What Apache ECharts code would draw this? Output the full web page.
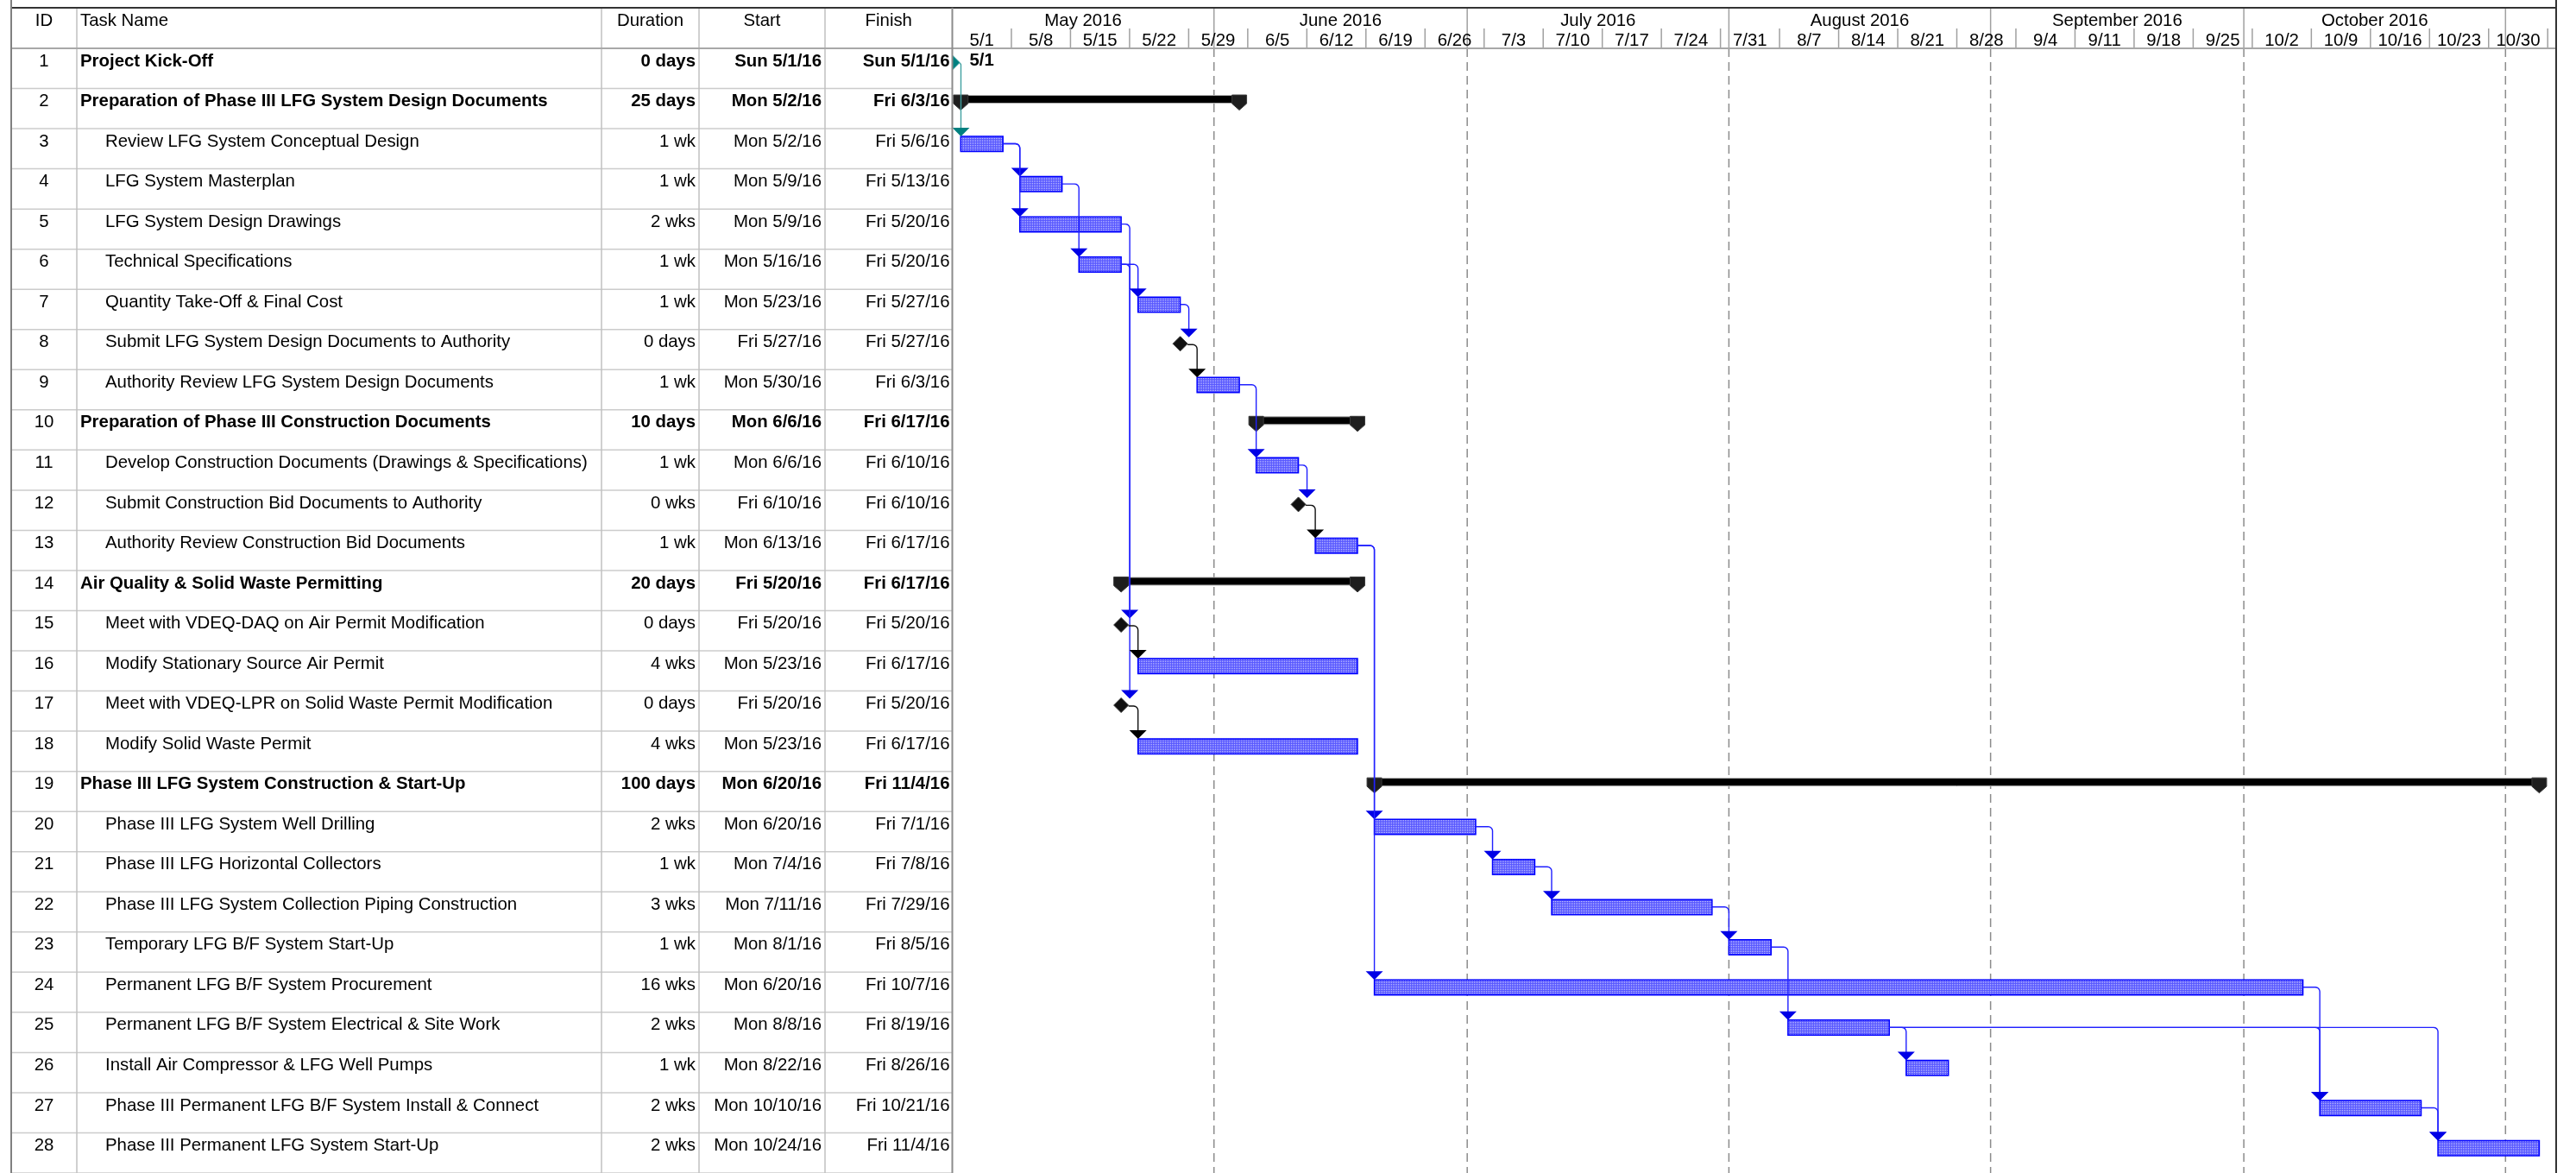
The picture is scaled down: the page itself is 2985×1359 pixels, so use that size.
<!DOCTYPE html>
<html>
<head>
<meta charset="utf-8">
<title>Phase III LFG System - Schedule</title>
<script src="https://cdn.jsdelivr.net/npm/echarts@6/dist/echarts.min.js"></script>
<style>
  html, body { margin: 0; padding: 0; background: #fff; }
  #main { width: 2985px; height: 1359px; }
</style>
</head>
<body>
<div id="main"></div>
<script>
const taskIds = [1, 2, 3, 4, 5, 6, 7, 8, 9, 10, 11, 12, 13, 14, 15, 16, 17, 18, 19, 20, 21, 22, 23, 24, 25, 26, 27, 28];
const taskNames = [
  'Project Kick-Off',
  'Preparation of Phase III LFG System Design Documents',
  'Review LFG System Conceptual Design',
  'LFG System Masterplan',
  'LFG System Design Drawings',
  'Technical Specifications',
  'Quantity Take-Off & Final Cost',
  'Submit LFG System Design Documents to Authority',
  'Authority Review LFG System Design Documents',
  'Preparation of Phase III Construction Documents',
  'Develop Construction Documents (Drawings & Specifications)',
  'Submit Construction Bid Documents to Authority',
  'Authority Review Construction Bid Documents',
  'Air Quality & Solid Waste Permitting',
  'Meet with VDEQ-DAQ on Air Permit Modification',
  'Modify Stationary Source Air Permit',
  'Meet with VDEQ-LPR on Solid Waste Permit Modification',
  'Modify Solid Waste Permit',
  'Phase III LFG System Construction & Start-Up',
  'Phase III LFG System Well Drilling',
  'Phase III LFG Horizontal Collectors',
  'Phase III LFG System Collection Piping Construction',
  'Temporary LFG B/F System Start-Up',
  'Permanent LFG B/F System Procurement',
  'Permanent LFG B/F System Electrical & Site Work',
  'Install Air Compressor & LFG Well Pumps',
  'Phase III Permanent LFG B/F System Install & Connect',
  'Phase III Permanent LFG System Start-Up'
];
const durations = ['0 days', '25 days', '1 wk', '1 wk', '2 wks', '1 wk', '1 wk', '0 days', '1 wk', '10 days',
  '1 wk', '0 wks', '1 wk', '20 days', '0 days', '4 wks', '0 days', '4 wks', '100 days', '2 wks',
  '1 wk', '3 wks', '1 wk', '16 wks', '2 wks', '1 wk', '2 wks', '2 wks'];
const starts = ['Sun 5/1/16', 'Mon 5/2/16', 'Mon 5/2/16', 'Mon 5/9/16', 'Mon 5/9/16', 'Mon 5/16/16', 'Mon 5/23/16',
  'Fri 5/27/16', 'Mon 5/30/16', 'Mon 6/6/16', 'Mon 6/6/16', 'Fri 6/10/16', 'Mon 6/13/16', 'Fri 5/20/16',
  'Fri 5/20/16', 'Mon 5/23/16', 'Fri 5/20/16', 'Mon 5/23/16', 'Mon 6/20/16', 'Mon 6/20/16', 'Mon 7/4/16',
  'Mon 7/11/16', 'Mon 8/1/16', 'Mon 6/20/16', 'Mon 8/8/16', 'Mon 8/22/16', 'Mon 10/10/16', 'Mon 10/24/16'];
const finishes = ['Sun 5/1/16', 'Fri 6/3/16', 'Fri 5/6/16', 'Fri 5/13/16', 'Fri 5/20/16', 'Fri 5/20/16', 'Fri 5/27/16',
  'Fri 5/27/16', 'Fri 6/3/16', 'Fri 6/17/16', 'Fri 6/10/16', 'Fri 6/10/16', 'Fri 6/17/16', 'Fri 6/17/16',
  'Fri 5/20/16', 'Fri 6/17/16', 'Fri 5/20/16', 'Fri 6/17/16', 'Fri 11/4/16', 'Fri 7/1/16', 'Fri 7/8/16',
  'Fri 7/29/16', 'Fri 8/5/16', 'Fri 10/7/16', 'Fri 8/19/16', 'Fri 8/26/16', 'Fri 10/21/16', 'Fri 11/4/16'];
const boldRows = [1, 2, 10, 14, 19];

// bar kind and bar span (from .. to, to = end of last working day)
const barType = ['milestone', 'summary', 'task', 'task', 'task', 'task', 'task', 'milestone', 'task', 'summary',
  'task', 'milestone', 'task', 'summary', 'milestone', 'task', 'milestone', 'task', 'summary', 'task',
  'task', 'task', 'task', 'task', 'task', 'task', 'task', 'task'];
const barFrom = ['2016-05-01', '2016-05-02', '2016-05-02', '2016-05-09', '2016-05-09', '2016-05-16', '2016-05-23',
  '2016-05-28', '2016-05-30', '2016-06-06', '2016-06-06', '2016-06-11', '2016-06-13', '2016-05-21',
  '2016-05-21', '2016-05-23', '2016-05-21', '2016-05-23', '2016-06-20', '2016-06-20', '2016-07-04',
  '2016-07-11', '2016-08-01', '2016-06-20', '2016-08-08', '2016-08-22', '2016-10-10', '2016-10-24'];
const barTo = ['2016-05-01', '2016-06-04', '2016-05-07', '2016-05-14', '2016-05-21', '2016-05-21', '2016-05-28',
  '2016-05-28', '2016-06-04', '2016-06-18', '2016-06-11', '2016-06-11', '2016-06-18', '2016-06-18',
  '2016-05-21', '2016-06-18', '2016-05-21', '2016-06-18', '2016-11-05', '2016-07-02', '2016-07-09',
  '2016-07-30', '2016-08-06', '2016-10-08', '2016-08-20', '2016-08-27', '2016-10-22', '2016-11-05'];
const labelledMilestones = [1];

// predecessor -> successor links
const linkPairs = [[1, 3], [3, 4], [3, 5], [4, 6], [5, 15], [6, 17], [6, 7], [7, 8], [8, 9], [9, 11], [11, 12],
  [12, 13], [15, 16], [17, 18], [13, 20], [13, 24], [20, 21], [21, 22], [22, 23], [23, 25], [25, 26],
  [24, 27], [25, 27], [25, 28], [27, 28]];
const linkKinds = ['teal', 'blue', 'blue', 'blue', 'blue', 'blue', 'blue', 'blue', 'black', 'blue', 'blue',
  'black', 'black', 'black', 'blue', 'blue', 'blue', 'blue', 'blue', 'blue', 'blue',
  'blue', 'blue', 'blue', 'blue'];

// timescale
const monthLabels = ['May 2016', 'June 2016', 'July 2016', 'August 2016', 'September 2016', 'October 2016', ''];
const monthStarts = ['2016-05-01', '2016-06-01', '2016-07-01', '2016-08-01', '2016-09-01', '2016-10-01', '2016-11-01'];
const weekLabels = ['5/1', '5/8', '5/15', '5/22', '5/29', '6/5', '6/12', '6/19', '6/26', '7/3', '7/10', '7/17',
  '7/24', '7/31', '8/7', '8/14', '8/21', '8/28', '9/4', '9/11', '9/18', '9/25', '10/2', '10/9', '10/16',
  '10/23', '10/30'];
const axisStart = '2016-05-01';
const axisEnd = '2016-11-07';
const tableHeaders = ['ID', 'Task Name', 'Duration', 'Start', 'Finish'];

// ---- helpers ----
const ORIGIN = Date.UTC(2016, 4, 1);
const day = (s) => {
  const [y, m, d] = s.split('-').map(Number);
  return (Date.UTC(y, m - 1, d) - ORIGIN) / 86400000;
};
const weekDay = (lbl) => {
  const [m, d] = lbl.split('/').map(Number);
  return (Date.UTC(2016, m - 1, d) - ORIGIN) / 86400000;
};

const FONT = '"Liberation Sans", Arial, sans-serif';
const TOP = 9, HEAD_BOTTOM = 56, ROW_H = 46.6, MID_TIER = 33;
const TABLE_LEFT = 13, GANTT_LEFT = 1103.5, GANTT_RIGHT = 2962;
const colEdges = [13, 89, 697, 810, 956, 1103.5];

const txt = (text, x, y, align, bold, extra) => ({
  type: 'text',
  style: Object.assign({
    text: text, x: x, y: y, fill: '#000',
    font: (bold ? 'bold ' : '') + '20.4px ' + FONT,
    align: align, textAlign: align, verticalAlign: 'middle', textVerticalAlign: 'middle'
  }, extra || {})
});

const rowTop = (api, idx) => api.coord([0, idx])[1] - api.size([0, 1])[1] / 2;

// bar fill: fine blue dither
const pat = document.createElement('canvas');
pat.width = 2; pat.height = 2;
const pg = pat.getContext('2d');
pg.fillStyle = '#5656ff'; pg.fillRect(0, 0, 2, 2);
pg.fillStyle = '#c4c4ff'; pg.fillRect(0, 0, 1, 1);
const barFill = { image: pat, repeat: 'repeat' };

const linkColors = {
  blue: { line: '#2020ff', head: '#0000e6' },
  black: { line: '#111', head: '#000' },
  teal: { line: '#40a0a0', head: '#008080' }
};

// ---- series ----
const tableSeries = {
  type: 'custom', xAxisIndex: 1, yAxisIndex: 1, z: 2, silent: true,
  data: taskIds.map((id, i) => [0, i]),
  renderItem: (params, api) => {
    const i = params.dataIndex;
    const top = rowTop(api, api.value(1));
    const h = api.size([0, 1])[1];
    const bold = boldRows.includes(taskIds[i]);
    const y = top + 15;
    return {
      type: 'group',
      children: [
        { type: 'line', shape: { x1: TABLE_LEFT, y1: top + h, x2: GANTT_LEFT, y2: top + h },
          style: { stroke: '#cccccc', lineWidth: 1.5 } },
        txt(String(taskIds[i]), (colEdges[0] + colEdges[1]) / 2, y, 'center', false),
        txt(taskNames[i], bold ? 93 : 122, y, 'left', bold),
        txt(durations[i], colEdges[3] - 4, y, 'right', bold),
        txt(starts[i], colEdges[4] - 4, y, 'right', bold),
        txt(finishes[i], colEdges[5] - 3, y, 'right', bold)
      ]
    };
  }
};

const tableHeaderSeries = {
  type: 'custom', xAxisIndex: 1, yAxisIndex: 1, z: 3, silent: true, clip: false,
  data: [[0, 0]],
  renderItem: (params) => {
    const cs = params.coordSys;
    const bottom = cs.y + cs.height + 10;
    const children = [];
    for (let c = 1; c < colEdges.length - 1; c++) {
      children.push({ type: 'line', shape: { x1: colEdges[c], y1: TOP, x2: colEdges[c], y2: bottom },
        style: { stroke: '#c0c0c0', lineWidth: 1.5 } });
    }
    const hx = [(colEdges[0] + colEdges[1]) / 2, 93, (colEdges[2] + colEdges[3]) / 2,
      (colEdges[3] + colEdges[4]) / 2, (colEdges[4] + colEdges[5]) / 2];
    const ha = ['center', 'left', 'center', 'center', 'center'];
    tableHeaders.forEach((h, k) => children.push(txt(h, hx[k], 24, ha[k], false)));
    return { type: 'group', children: children };
  }
};

const monthSeries = {
  type: 'custom', xAxisIndex: 0, yAxisIndex: 0, z: 1, silent: true, clip: false,
  data: monthStarts.map((s, k) => [day(s), 0, k < monthStarts.length - 1 ? day(monthStarts[k + 1]) : day(axisEnd)]),
  renderItem: (params, api) => {
    const cs = params.coordSys;
    const k = params.dataIndex;
    const x0 = api.coord([api.value(0), 0])[0];
    const x1 = api.coord([api.value(2), 0])[0];
    const children = [];
    if (api.value(0) > 0) {
      children.push({ type: 'line', shape: { x1: x0, y1: TOP, x2: x0, y2: HEAD_BOTTOM },
        style: { stroke: '#a0a0a0', lineWidth: 1.5 } });
      children.push({ type: 'line', shape: { x1: x0, y1: HEAD_BOTTOM, x2: x0, y2: cs.y + cs.height + 10 },
        style: { stroke: '#8c8c8c', lineWidth: 1.5, lineDash: [10, 6] } });
    }
    if (monthLabels[k]) children.push(txt(monthLabels[k], (x0 + x1) / 2, 24, 'center', false));
    return { type: 'group', children: children };
  }
};

const weekSeries = {
  type: 'custom', xAxisIndex: 0, yAxisIndex: 0, z: 1, silent: true, clip: false,
  data: weekLabels.map((w) => [weekDay(w), 0, weekDay(w) + 7]),
  renderItem: (params, api) => {
    const x0 = api.coord([api.value(0), 0])[0];
    const x1 = api.coord([api.value(2), 0])[0];
    return {
      type: 'group',
      children: [
        { type: 'line', shape: { x1: x1, y1: MID_TIER, x2: x1, y2: HEAD_BOTTOM },
          style: { stroke: '#a0a0a0', lineWidth: 1.5 } },
        txt(weekLabels[params.dataIndex], (x0 + x1) / 2, 47, 'center', false)
      ]
    };
  }
};

const barSeries = {
  type: 'custom', xAxisIndex: 0, yAxisIndex: 0, z: 3, silent: true, clip: true,
  data: taskIds.map((id, i) => [day(barFrom[i]), i, day(barTo[i])]),
  renderItem: (params, api) => {
    const i = params.dataIndex;
    const top = rowTop(api, api.value(1));
    const xa = api.coord([api.value(0), api.value(1)])[0];
    const xb = api.coord([api.value(2), api.value(1)])[0];
    const kind = barType[i];
    if (kind === 'task') {
      return { type: 'rect', shape: { x: xa, y: top + 9, width: xb - xa, height: 17.5 },
        style: { fill: barFill, stroke: '#0000ff', lineWidth: 1.5 } };
    }
    if (kind === 'summary') {
      const cap = (x) => ({ type: 'polygon',
        shape: { points: [[x - 8.5, top + 7.5], [x + 8.5, top + 7.5], [x + 8.5, top + 17.5], [x, top + 25], [x - 8.5, top + 17.5]] },
        style: { fill: '#1e1e1e', stroke: '#3a3a3a', lineWidth: 1 } });
      return { type: 'group', children: [
        { type: 'rect', shape: { x: xa, y: top + 8, width: xb - xa, height: 9 },
          style: { fill: '#000', stroke: '#b0b0b0', lineWidth: 1 } },
        cap(xa), cap(xb)
      ] };
    }
    const teal = labelledMilestones.includes(taskIds[i]);
    const cy = top + 16.5;
    const children = [{ type: 'polygon',
      shape: { points: [[xb, cy - 8.5], [xb + 8.5, cy], [xb, cy + 8.5], [xb - 8.5, cy]] },
      style: { fill: teal ? '#008080' : '#111', stroke: teal ? '#1a9090' : '#333', lineWidth: 1 } }];
    if (teal) {
      const lbl = starts[i].split(' ')[1].split('/').slice(0, 2).join('/');
      children.push(txt(lbl, xb + 20, top + 14, 'left', true));
    }
    return { type: 'group', children: children };
  }
};

const linkSeries = {
  type: 'custom', xAxisIndex: 0, yAxisIndex: 0, z: 4, silent: true, clip: false,
  data: linkPairs.map(([p, s]) => [day(barTo[p - 1]), p - 1, day(barFrom[s - 1]), s - 1]),
  renderItem: (params, api) => {
    const col = linkColors[linkKinds[params.dataIndex]];
    const pRow = api.value(1), sRow = api.value(3);
    const pEnd = api.coord([api.value(0), pRow])[0];
    const sStart = api.coord([api.value(2), sRow])[0];
    const pTop = rowTop(api, pRow), sTop = rowTop(api, sRow);
    const isMs = barType[pRow] === 'milestone';
    const sx = isMs ? pEnd + 8.5 : pEnd;
    const y0 = pTop + 17.5;
    const turnX = Math.max(sStart, pEnd + 10);
    const tip = sTop + 9, base = sTop - 1;
    const r = Math.max(0, Math.min(5, turnX - sx));
    const pts = [[sx, y0]];
    for (let a = 0; a <= 4; a++) {
      const t = (Math.PI / 2) * (a / 4);
      pts.push([turnX - r + r * Math.sin(t), y0 + r - r * Math.cos(t)]);
    }
    pts.push([turnX, base + 2]);
    return { type: 'group', children: [
      { type: 'polyline', shape: { points: pts }, style: { stroke: col.line, lineWidth: 1.4, fill: null } },
      { type: 'polygon', shape: { points: [[turnX - 10, base], [turnX + 10, base], [turnX, tip]] },
        style: { fill: col.head } }
    ] };
  }
};

// ---- chart ----
const chart = echarts.init(document.getElementById('main'), null, { renderer: 'canvas' });
const gridH = taskIds.length * ROW_H;
chart.setOption({
  animation: false,
  backgroundColor: '#fff',
  grid: [
    { left: GANTT_LEFT, top: HEAD_BOTTOM, width: GANTT_RIGHT - GANTT_LEFT, height: gridH },
    { left: TABLE_LEFT, top: HEAD_BOTTOM, width: GANTT_LEFT - TABLE_LEFT, height: gridH }
  ],
  xAxis: [
    { gridIndex: 0, type: 'value', min: day(axisStart), max: day(axisEnd), show: false },
    { gridIndex: 1, type: 'value', min: 0, max: 1, show: false }
  ],
  yAxis: [
    { gridIndex: 0, type: 'category', data: taskIds, inverse: true, show: false },
    { gridIndex: 1, type: 'category', data: taskIds, inverse: true, show: false }
  ],
  graphic: [
    { type: 'line', z: 10, shape: { x1: TABLE_LEFT, y1: TOP, x2: GANTT_RIGHT, y2: TOP }, style: { stroke: '#333', lineWidth: 2 } },
    { type: 'line', z: 10, shape: { x1: TABLE_LEFT, y1: HEAD_BOTTOM, x2: GANTT_RIGHT, y2: HEAD_BOTTOM }, style: { stroke: '#a8a8a8', lineWidth: 2 } },
    { type: 'line', z: 10, shape: { x1: TABLE_LEFT, y1: 0, x2: TABLE_LEFT, y2: 1359 }, style: { stroke: '#808080', lineWidth: 2 } },
    { type: 'line', z: 10, shape: { x1: GANTT_LEFT, y1: TOP, x2: GANTT_LEFT, y2: 1359 }, style: { stroke: '#8c8c8c', lineWidth: 2 } },
    { type: 'line', z: 10, shape: { x1: GANTT_RIGHT, y1: 0, x2: GANTT_RIGHT, y2: 1359 }, style: { stroke: '#333', lineWidth: 2 } }
  ],
  series: [monthSeries, weekSeries, tableSeries, tableHeaderSeries, barSeries, linkSeries]
});
window.addEventListener('resize', () => chart.resize());
</script>
</body>
</html>
